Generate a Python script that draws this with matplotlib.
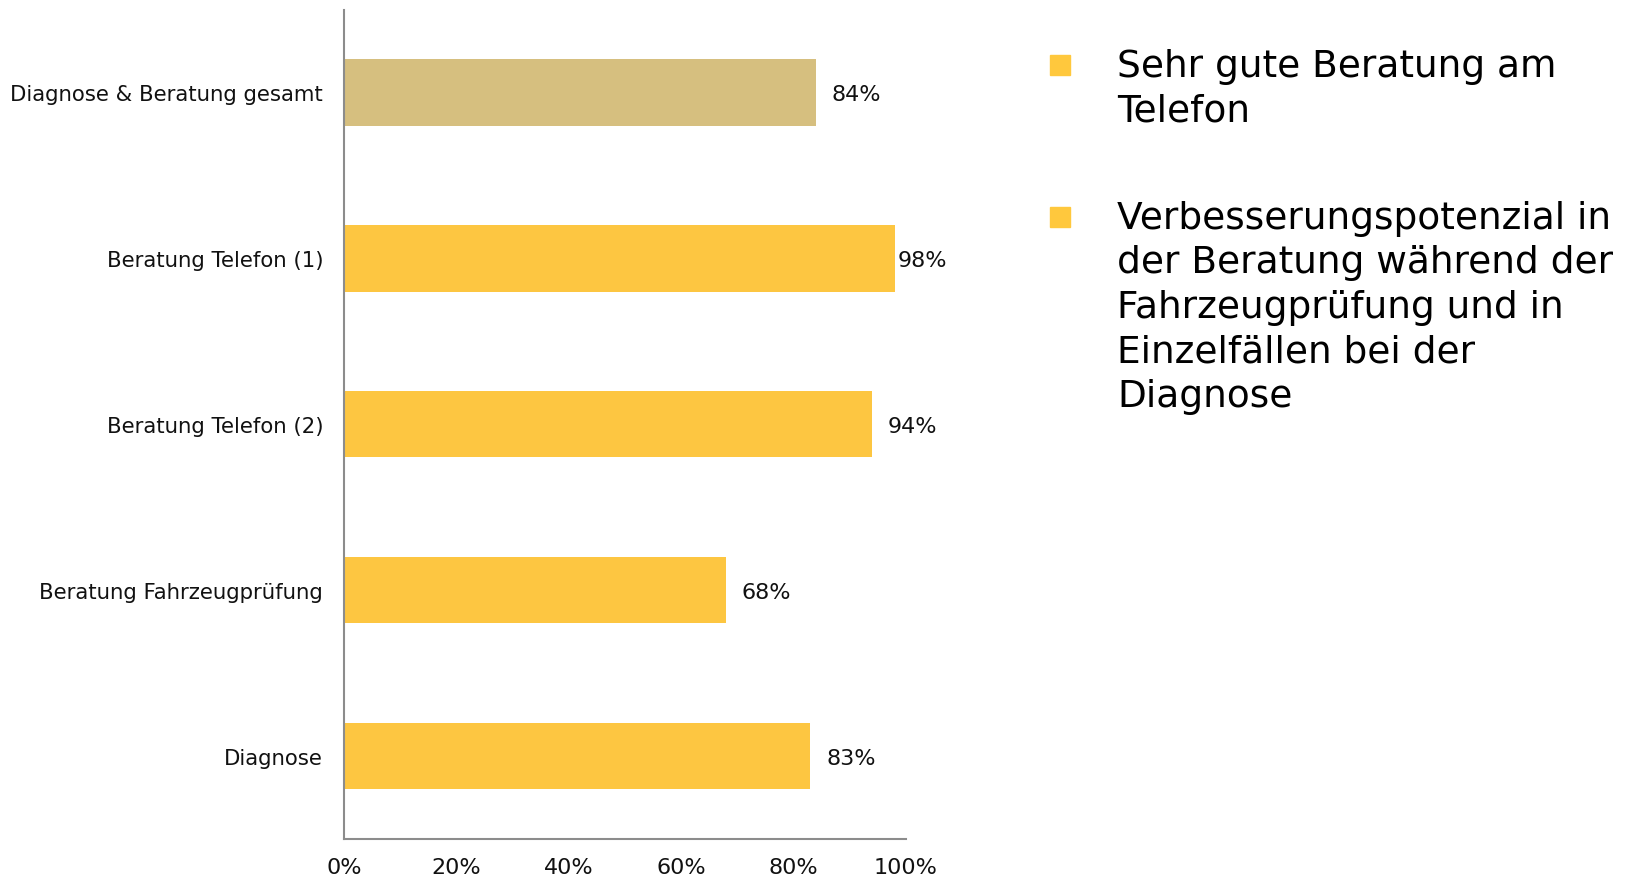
import matplotlib.pyplot as plt
from matplotlib.patches import Rectangle

categories = ['Diagnose & Beratung gesamt', 'Beratung Telefon (1)', 'Beratung Telefon (2)',
              'Beratung Fahrzeugprüfung', 'Diagnose']
values = [0.84, 0.98, 0.94, 0.68, 0.83]
colors = ['#D6BF7F', '#FDC641', '#FDC641', '#FDC641', '#FDC641']
x_ticks = [0, 0.2, 0.4, 0.6, 0.8, 1.0]
x_tick_labels = ['0%', '20%', '40%', '60%', '80%', '100%']
notes = ['Sehr gute Beratung am\nTelefon',
         'Verbesserungspotenzial in\nder Beratung während der\nFahrzeugprüfung und in\nEinzelfällen bei der\nDiagnose']

plt.rcParams['font.family'] = ['DejaVu Sans']

fig = plt.figure(figsize=(16.33, 8.79), dpi=100)
ax = fig.add_axes([0.2107, 0.0444, 0.3441, 0.9436])

pos = list(range(len(categories)))
ax.barh(pos, values, height=0.4, color=colors)
ax.set_ylim(len(categories) - 0.5, -0.5)
ax.set_xlim(0, 1.0)

for p, v in zip(pos, values):
    ax.text(min(v + 0.028, 0.985), p + 0.01, f'{v:.0%}', va='center', ha='left',
            fontsize=16, color='#111111')

ax.set_yticks(pos)
ax.set_yticklabels(categories, fontsize=15.3, color='#111111')
ax.set_xticks(x_ticks)
ax.set_xticklabels(x_tick_labels, fontsize=16, color='#111111')
ax.tick_params(axis='y', length=0, pad=15)
ax.tick_params(axis='x', length=0, pad=13)

for s in ['top', 'right']:
    ax.spines[s].set_visible(False)
for s in ['left', 'bottom']:
    ax.spines[s].set_color('#8c8c8c')
    ax.spines[s].set_linewidth(1.5)

# notes on the right
note_tops = [47, 199]
for top, txt in zip(note_tops, notes):
    fig.patches.append(Rectangle((1050 / 1633, 1 - (top + 29) / 879), 20 / 1633, 20 / 879,
                                 transform=fig.transFigure, color='#FFC83D'))
    fig.text(1117 / 1633, 1 - (top + 2) / 879, txt, fontsize=27, va='top', ha='left',
             color='#000000', linespacing=1.3)

fig.savefig('out.png', dpi=100)
